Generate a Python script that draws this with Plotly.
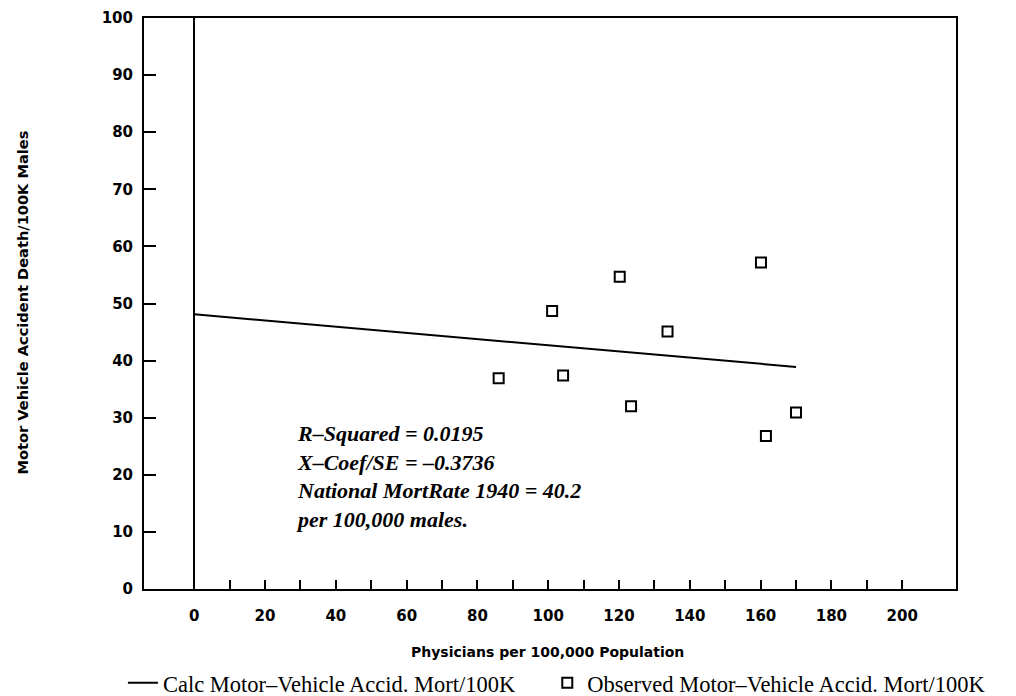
import plotly.graph_objects as go

# Observed data
obs_x = [86.0, 101.1, 104.2, 120.2, 123.4, 133.7, 160.1, 161.5, 170.0]
obs_y = [36.9, 48.7, 37.4, 54.7, 32.0, 45.1, 57.2, 26.8, 30.9]

# Regression line endpoints
calc_x = [0, 170]
calc_y = [48.1, 38.9]

x_ticks = list(range(0, 201, 20))
x_minor = list(range(10, 200, 20))
y_ticks = list(range(0, 101, 10))

stats_text = ("R–Squared = 0.0195<br>X–Coef/SE = –0.3736<br>"
              "National MortRate 1940 = 40.2<br>per 100,000 males.")

fig = go.Figure()
fig.add_trace(go.Scatter(x=calc_x, y=calc_y, mode="lines",
                         line=dict(color="black", width=2),
                         name="Calc Motor–Vehicle Accid. Mort/100K",
                         legend="legend"))
fig.add_trace(go.Scatter(x=obs_x, y=obs_y, mode="markers",
                         marker=dict(symbol="square-open", size=10, color="black",
                                     line=dict(width=2, color="black")),
                         name="Observed Motor–Vehicle Accid. Mort/100K",
                         legend="legend2"))

axis_font = dict(family="DejaVu Sans", size=15, color="black", weight="bold")
legend_font = dict(family="Liberation Serif", size=22.5, color="black")

fig.update_layout(
    width=1008, height=688,
    margin=dict(l=136, r=60, t=10, b=107, autoexpand=False),
    paper_bgcolor="white", plot_bgcolor="white",
    showlegend=True,
    legend=dict(orientation="h", xref="container", yref="container",
                x=0.114, y=0.05, xanchor="left", yanchor="top",
                font=legend_font, bgcolor="rgba(0,0,0,0)", itemwidth=30),
    legend2=dict(orientation="h", xref="container", yref="container",
                 x=0.535, y=0.05, xanchor="left", yanchor="top",
                 font=legend_font, bgcolor="rgba(0,0,0,0)", itemwidth=30),
    xaxis=dict(range=[-14.2, 215.2], tickvals=x_ticks, ticks="inside", ticklen=9,
               tickwidth=2, tickcolor="black", showgrid=False, automargin=False,
               showline=True, linecolor="black", linewidth=2, mirror=True,
               zeroline=True, zerolinecolor="black", zerolinewidth=2,
               tickfont=axis_font, ticklabelstandoff=12, ticklabeloverflow="allow",
               minor=dict(tickvals=x_minor, ticks="inside", ticklen=9, tickwidth=2,
                          tickcolor="black", showgrid=False)),
    yaxis=dict(range=[0, 100], tickvals=y_ticks, ticks="inside", ticklen=12,
               tickwidth=2, tickcolor="black", showgrid=False, automargin=False,
               showline=True, linecolor="black", linewidth=2, mirror=True,
               zeroline=False, tickfont=axis_font, ticklabelstandoff=6,
               ticklabeloverflow="allow"),
    annotations=[
        dict(x=28.1, y=29.8, xref="x", yref="y", xanchor="left", yanchor="top",
             text="<b><i>" + stats_text + "</i></b>", showarrow=False, align="left",
             font=dict(family="Liberation Serif", size=22, color="black")),
        dict(x=0.4975, y=-0.11, xref="paper", yref="paper", xanchor="center",
             yanchor="middle", showarrow=False,
             text="Physicians per 100,000 Population",
             font=dict(family="DejaVu Sans", size=14, color="black", weight="bold")),
        dict(x=-0.150, y=0.502, xref="paper", yref="paper", xanchor="center",
             yanchor="middle", showarrow=False, textangle=-90,
             text="Motor Vehicle Accident Death/100K Males",
             font=dict(family="DejaVu Sans", size=14.6, color="black", weight="bold")),
    ],
)

fig.write_html("out.html")
